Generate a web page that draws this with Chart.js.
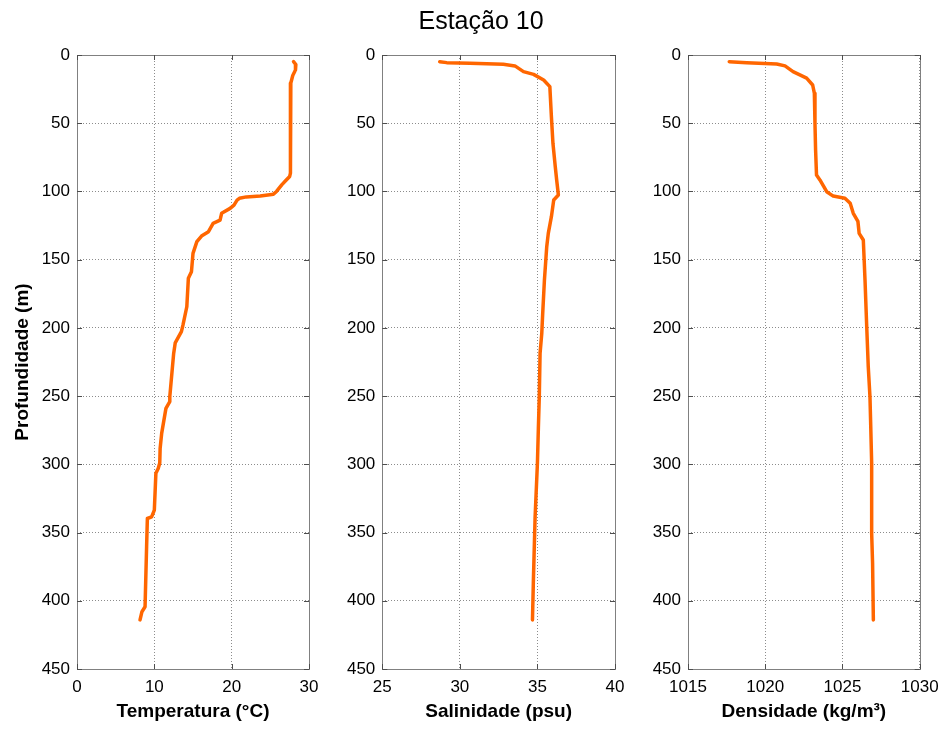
<!DOCTYPE html>
<html>
<head>
<meta charset="utf-8">
<script src="https://cdn.jsdelivr.net/npm/chart.js@4.4.1/dist/chart.umd.min.js"></script>
<style>
  html, body { margin: 0; padding: 0; background: #fff; }
  #wrap { position: relative; width: 944px; height: 729px; overflow: hidden; background: #fff; }
  .pane { position: absolute; top: 0; height: 729px; }
</style>
</head>
<body>
<div id="wrap">
  <div class="pane" style="left:0px;width:320px;"><canvas id="c1"></canvas></div>
  <div class="pane" style="left:347px;width:295px;"><canvas id="c2"></canvas></div>
  <div class="pane" style="left:642px;width:302px;"><canvas id="c3"></canvas></div>
</div>
<script>
// ---- data ----
const figureTitle = "Estação 10";
const depthLabel = "Profundidade (m)";
const depthTicks = [0, 50, 100, 150, 200, 250, 300, 350, 400, 450];

const tempDepth = [4.9, 7, 11, 15, 20.5, 50, 86.5, 89, 92, 95, 100, 102, 103.4, 104, 105, 106.3, 110, 112.4, 116, 121, 123.4, 129.5, 132.7, 136.8, 145.4, 158.8, 163.7, 184.5, 198, 202.8, 211, 218.7, 250.4, 254, 259, 277.3, 288.3, 299, 303, 306.6, 333.5, 338.5, 339.7, 360.4, 404.4, 408, 414];
const tempValues = [28.0, 28.3, 28.25, 27.9, 27.65, 27.6, 27.6, 27.5, 27.0, 26.5, 25.8, 25.4, 23.7, 21.9, 21.0, 20.7, 20.3, 19.8, 18.7, 18.5, 17.6, 17.0, 16.1, 15.5, 15.0, 14.8, 14.4, 14.2, 13.7, 13.5, 12.7, 12.5, 12.0, 12.0, 11.5, 10.95, 10.75, 10.7, 10.5, 10.2, 10.0, 9.65, 9.1, 9.0, 8.8, 8.4, 8.15];
const tempTicks = [0, 10, 20, 30];

const salDepth = [4.9, 5.6, 6.1, 6.8, 8, 12.2, 14.2, 18.3, 23.2, 45.2, 64.7, 81.9, 91.6, 102.6, 106.3, 118.5, 130.7, 140.5, 165, 189.4, 204, 218.6, 250.4, 273.6, 299, 338.4, 384.8, 414];
const salValues = [28.7, 29.15, 30.65, 32.8, 33.55, 34.1, 34.75, 35.4, 35.8, 35.9, 36.0, 36.15, 36.24, 36.35, 36.05, 35.9, 35.7, 35.6, 35.45, 35.34, 35.28, 35.17, 35.12, 35.06, 35.0, 34.85, 34.74, 34.68];
const salTicks = [25, 30, 35, 40];

const densDepth = [4.9, 5.6, 6.6, 8, 12.2, 17, 22, 28, 50, 69.6, 88, 91.6, 100.2, 103.4, 105, 108.7, 116, 122, 130.7, 135.6, 165, 199, 228.5, 250.4, 267.5, 299, 350.6, 372.6, 414];
const densValues = [1017.67, 1018.8, 1020.74, 1021.28, 1021.8, 1022.68, 1023.07, 1023.18, 1023.22, 1023.26, 1023.32, 1023.54, 1023.98, 1024.4, 1025.16, 1025.5, 1025.7, 1026.0, 1026.08, 1026.35, 1026.46, 1026.57, 1026.67, 1026.78, 1026.82, 1026.89, 1026.89, 1026.95, 1027.0];
const densTicks = [1015, 1020, 1025, 1030];

const xLabels = ["Temperatura (°C)", "Salinidade (psu)", "Densidade (kg/m³)"];

// ---- styling ----
const FONT = "'Liberation Sans', Arial, Helvetica, sans-serif";
const LINE_COLOR = "rgb(255,102,0)";
const GRID_COLOR = "#8c8c8c";
const BOX_COLOR = "#808080";
const TICK_COLOR = "#4d4d4d";

const boxPlugin = {
  id: 'matlabBox',
  afterDraw(chart) {
    const {ctx, chartArea: a, scales} = chart;
    ctx.save();
    ctx.setLineDash([]);
    ctx.strokeStyle = BOX_COLOR;
    ctx.lineWidth = 1;
    ctx.strokeRect(Math.round(a.left) + 0.5, Math.round(a.top) + 0.5, Math.round(a.right - a.left), Math.round(a.bottom - a.top));
    ctx.strokeStyle = TICK_COLOR;
    const L = 5;
    scales.x.ticks.forEach(t => {
      const px = Math.round(scales.x.getPixelForValue(t.value)) + 0.5;
      ctx.beginPath();
      ctx.moveTo(px, a.bottom); ctx.lineTo(px, a.bottom - L);
      ctx.moveTo(px, a.top); ctx.lineTo(px, a.top + L);
      ctx.stroke();
    });
    scales.y.ticks.forEach(t => {
      const py = Math.round(scales.y.getPixelForValue(t.value)) + 0.5;
      ctx.beginPath();
      ctx.moveTo(a.left, py); ctx.lineTo(a.left + L, py);
      ctx.moveTo(a.right, py); ctx.lineTo(a.right - L, py);
      ctx.stroke();
    });
    ctx.restore();
  }
};

function makePanel(id, depth, values, ticks, xTitle, opts) {
  const data = depth.map((d, i) => ({x: values[i], y: d}));
  new Chart(document.getElementById(id), {
    type: 'scatter',
    data: { datasets: [{ data, showLine: true, borderColor: LINE_COLOR, borderWidth: 3.5, pointRadius: 0, tension: 0, borderJoinStyle: 'round', borderCapStyle: 'round' }] },
    options: {
      responsive: true, maintainAspectRatio: false, animation: false,
      layout: { padding: opts.padding },
      plugins: {
        legend: { display: false }, tooltip: { enabled: false },
        title: opts.title ? { display: true, text: figureTitle, color: '#000', font: { family: FONT, size: 25, weight: 'normal' }, padding: { top: 7, bottom: 18 } } : { display: false }
      },
      scales: {
        x: {
          type: 'linear', position: 'bottom', min: ticks[0], max: ticks[ticks.length - 1],
          afterBuildTicks: (s) => { s.ticks = ticks.map(v => ({value: v})); },
          afterFit: (s) => { s.height = 54; s.paddingLeft = 0; s.paddingRight = 0; },
          grid: { color: GRID_COLOR, lineWidth: 1, drawTicks: false },
          border: { display: false, dash: [1, 2] },
          ticks: { color: '#000', font: { family: FONT, size: 17 }, padding: 8, maxRotation: 0, autoSkip: false, callback: (v) => String(v) },
          title: { display: true, text: xTitle, color: '#000', font: { family: FONT, size: 19, weight: 'bold' }, padding: 0 }
        },
        y: {
          type: 'linear', position: 'left', reverse: true, min: depthTicks[0], max: depthTicks[depthTicks.length - 1],
          afterBuildTicks: (s) => { s.ticks = depthTicks.map(v => ({value: v})); },
          afterFit: (s) => { s.width = opts.yWidth; s.paddingTop = 0; s.paddingBottom = 0; },
          grid: { color: GRID_COLOR, lineWidth: 1, drawTicks: false },
          border: { display: false, dash: [1, 2] },
          ticks: { color: '#000', font: { family: FONT, size: 17 }, padding: 7, autoSkip: false, callback: (v) => String(v) },
          title: { display: opts.yTitle, text: depthLabel, color: '#000', font: { family: FONT, size: 19, weight: 'bold' }, padding: 0 }
        }
      }
    },
    plugins: [boxPlugin]
  });
}

makePanel('c1', tempDepth, tempValues, tempTicks, xLabels[0], { padding: { left: 11, top: 55, right: 11, bottom: 6 }, yWidth: 66, yTitle: true, title: false });
makePanel('c2', salDepth, salValues, salTicks, xLabels[1], { padding: { left: 0, top: 0, right: 27, bottom: 6 }, yWidth: 35.3, yTitle: false, title: true });
makePanel('c3', densDepth, densValues, densTicks, xLabels[2], { padding: { left: 0, top: 55, right: 24.3, bottom: 6 }, yWidth: 46, yTitle: false, title: false });
</script>
</body>
</html>
